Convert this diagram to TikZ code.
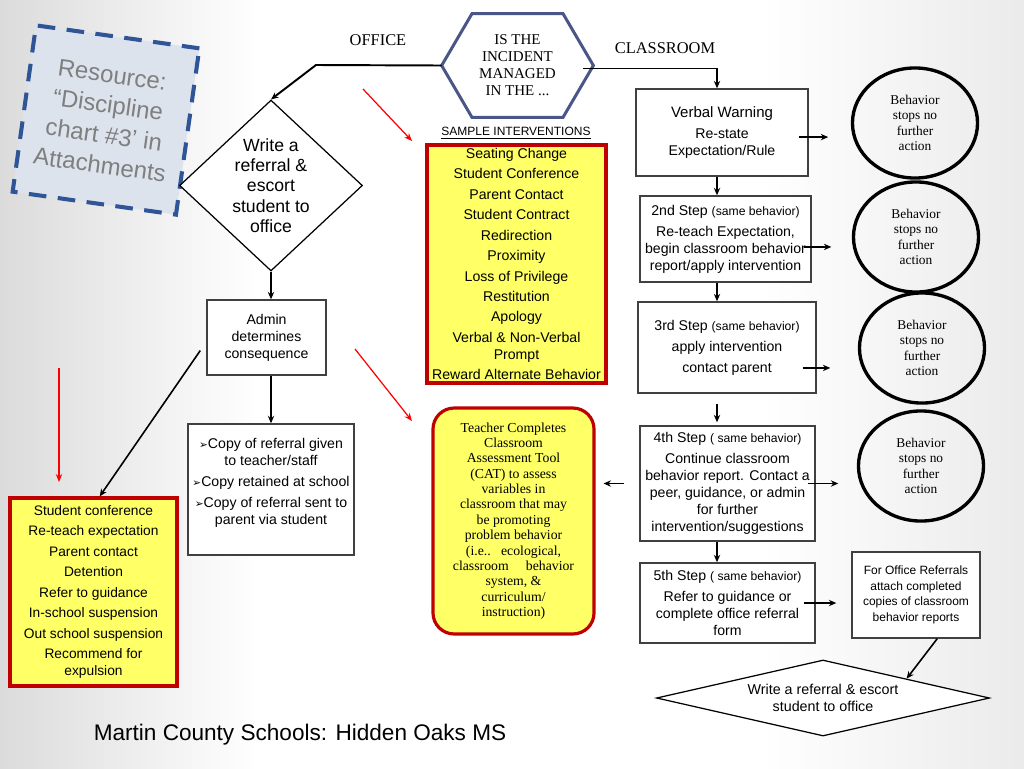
\documentclass[tikz,border=0pt]{standalone}
\usepackage{fontspec}
\setmainfont{Liberation Sans}
\newfontfamily\discserif{Liberation Serif}
\newfontfamily\discsym{DejaVu Sans}
\usetikzlibrary{arrows.meta,positioning,shapes.geometric}
\definecolor{discInk}{HTML}{000000}
\definecolor{discRed}{HTML}{C00000}
\definecolor{discYellow}{HTML}{FFFF66}
\definecolor{discNavy}{HTML}{4A5688}
\definecolor{discDash}{HTML}{2F5597}
\definecolor{discPale}{HTML}{DCE3EC}
\definecolor{discGray}{HTML}{7F7F7F}
\definecolor{discHint}{HTML}{FF0000}
\tikzset{
  every picture/.style={text=discInk},
  disc box/.style={draw=discInk!75, line width=0.8pt, fill=white, align=center,
    inner sep=0pt, font=\fontsize{8}{9.6}\selectfont},
  disc note/.style={draw=discRed, line width=1.8pt, fill=discYellow, align=center,
    inner sep=0pt},
  disc stop/.style={ellipse, draw=discInk, line width=1.9pt, align=center,
    inner sep=0pt, minimum width=70.9pt, minimum height=62.4pt,
    font=\discserif\fontsize{7.6}{8.8}\selectfont},
  disc arrow/.style={-{Stealth[length=4.2pt,width=3.6pt]}, draw=discInk,
    line width=0.9pt},
  disc hint/.style={-{Stealth[length=4.5pt,width=3.6pt]}, draw=discHint,
    line width=0.7pt},
  disc label/.style={font=\discserif\fontsize{9.3}{11}\selectfont}
}
\begin{document}
\begin{tikzpicture}[x=0.5669pt,y=-0.5669pt]
  \useasboundingbox (0,0) rectangle (1024,768);
  % background
  \fill[white] (0,0) rectangle (1024,768);
  \shade[left color=black!14, right color=white] (0,0) rectangle (260,768);
  \shade[left color=white, right color=black!8] (760,0) rectangle (1024,768);

  % resource note
  \node[draw=discDash, line width=2.3pt, dash pattern=on 10pt off 6.5pt,
    fill=discPale, rotate=-8, minimum width=93.5pt, minimum height=95.2pt,
    align=center, text=discGray, font=\fontsize{13.6}{17.2}\selectfont]
    (resource) at (106,120) {Resource:\\“Discipline\\chart \#3’ in\\Attachments};

  % decision
  \node[minimum width=85.6pt, minimum height=58.4pt, inner sep=0pt, align=center,
    font=\discserif\fontsize{8.5}{9.6}\selectfont] (hex) at (517.5,65.5)
    {IS THE\\INCIDENT\\MANAGED\\IN THE ...};
  \draw[discNavy, line width=1.7pt] (hex.west) -- ([xshift=-25.8pt]hex.north)
    -- ([xshift=25.8pt]hex.north) -- (hex.east) -- ([xshift=25.8pt]hex.south)
    -- ([xshift=-25.8pt]hex.south) -- cycle;
  \node[disc label] (office) at (378,40) {OFFICE};
  \node[disc label] (classroom) at (665,48) {CLASSROOM};

  % office side
  \coordinate (officebend) at (316,65);
  \node[diamond, draw=discInk, line width=0.7pt, fill=white, align=center,
    inner sep=0pt, shape aspect=1.07, minimum width=103.7pt, minimum height=96.9pt,
    font=\fontsize{10}{11.5}\selectfont] (wdiam) at (271,185.5)
    {Write a\\referral \&\\escort\\student to\\office};
  \node[disc box, minimum width=67.5pt, minimum height=42.5pt] (admin) at (266.5,337.5)
    {Admin\\determines\\consequence};
  \node[disc box, minimum width=94.1pt, minimum height=74.3pt] (copies) at (271,489.5) {};
  \node[anchor=north, align=center, inner sep=0pt, font=\fontsize{8}{9.6}\selectfont]
    (copiestext) at ([yshift=-8.5pt]copies.north)
    {{\discsym\fontsize{6}{6}\selectfont ➢}Copy of referral given\\to teacher/staff\\[2.3pt]
     {\discsym\fontsize{6}{6}\selectfont ➢}Copy retained at school\\[2.3pt]
     {\discsym\fontsize{6}{6}\selectfont ➢}Copy of referral sent to\\parent via student};
  \node[disc note, minimum width=94.7pt, minimum height=106.6pt,
    font=\fontsize{7.8}{11.6}\selectfont] (conseq) at (93.5,592)
    {Student conference\\Re-teach expectation\\Parent contact\\Detention\\
     Refer to guidance\\In-school suspension\\Out school suspension\\
     Recommend for\\[-2pt]expulsion};

  % interventions
  \node[font=\fontsize{6.8}{8}\selectfont] (sampletitle) at (516,133)
    {\underline{SAMPLE INTERVENTIONS}};
  \node[disc note, minimum width=101.5pt, minimum height=134.9pt,
    font=\fontsize{8}{11.6}\selectfont] (interv) at (516.5,264)
    {Seating Change\\Student Conference\\Parent Contact\\Student Contract\\
     Redirection\\Proximity\\Loss of Privilege\\Restitution\\Apology\\
     Verbal \& Non-Verbal\\[-2pt]Prompt\\Reward Alternate Behavior};
  \node[disc note, rounded corners=12pt, minimum width=91.3pt, minimum height=128.1pt,
    font=\discserif\fontsize{7.8}{8.7}\selectfont] (cat) at (513.5,521)
    {Teacher Completes\\Classroom\\Assessment Tool\\(CAT) to assess\\variables in\\
     classroom that may\\be promoting\\problem behavior\\(i.e..\ \ \ ecological,\\
     classroom\quad\ behavior\\system, \&\\curriculum/\\instruction)};

  % classroom side
  \node[disc box, minimum width=97.5pt, minimum height=49.3pt] (vw) at (722,132.5)
    {\fontsize{8.5}{9.6}\selectfont Verbal Warning\\[2.3pt]Re-state\\Expectation/Rule};
  \node[disc box, minimum width=96.9pt, minimum height=48.8pt] (s2) at (725.5,239)
    {2nd Step {\fontsize{6.9}{9.6}\selectfont(same behavior)}\\[2.3pt]
     Re-teach Expectation,\\begin classroom behavior\\report/apply intervention};
  \node[disc box, minimum width=100.9pt, minimum height=51.6pt] (s3) at (727,347.5)
    {3rd Step {\fontsize{6.9}{9.6}\selectfont(same behavior)}\\[2.3pt]
     apply intervention\\[2.3pt]contact parent};
  \node[disc box, minimum width=99.2pt, minimum height=65.2pt] (s4) at (727.5,483.5)
    {4th Step {\fontsize{6.9}{9.6}\selectfont( same behavior)}\\[2.3pt]
     Continue classroom\\behavior report. Contact a\\peer, guidance, or admin\\
     for further\\intervention/suggestions};
  \node[disc box, minimum width=99.2pt, minimum height=45.4pt] (s5) at (727.5,603)
    {5th Step {\fontsize{6.9}{9.6}\selectfont( same behavior)}\\[2.3pt]
     Refer to guidance or\\complete office referral\\form};
  \node[disc box, minimum width=72.6pt, minimum height=48.8pt,
    font=\fontsize{6.8}{8.8}\selectfont] (offref) at (916,595)
    {For Office Referrals\\attach completed\\copies of classroom\\behavior reports};
  \node[diamond, draw=discInk, line width=0.7pt, fill=white, align=center,
    inner sep=0pt, shape aspect=4.4, minimum width=188.8pt, minimum height=43.1pt,
    font=\fontsize{8.1}{9.6}\selectfont] (bdiam) at (823,698)
    {Write a referral \& escort\\student to office};

  \node[disc stop] (stop1) at (915,123) {Behavior\\stops no\\further\\action};
  \node[disc stop] (stop2) at (916,237) {Behavior\\stops no\\further\\action};
  \node[disc stop] (stop3) at (922,348) {Behavior\\stops no\\further\\action};
  \node[disc stop] (stop4) at (921,466) {Behavior\\stops no\\further\\action};

  % connectors
  \coordinate (col) at (717,0);
  \draw[disc arrow, line width=1.1pt] (hex.west) -- (officebend) -- (wdiam.north);
  \draw[disc arrow, line width=1.1pt] ([xshift=-5.7pt,yshift=-1.7pt]hex.east)
    -| (col |- vw.north);
  \draw[disc arrow] (wdiam.south) -- (wdiam.south |- admin.north);
  \draw[disc arrow] (copies.north |- admin.south) -- (copies.north);
  \draw[disc arrow] ([shift={(-3.4pt,-7.4pt)}]admin.west) -- ([xshift=3.5pt]conseq.north);
  \draw[disc arrow] (col |- vw.south) -- (col |- s2.north);
  \draw[disc arrow] (col |- s2.south) -- (col |- s3.north);
  \draw[disc arrow, shorten <=5.7pt, shorten >=1.7pt] (col |- s3.south) -- (col |- s4.north);
  \draw[disc arrow] (col |- s4.south) -- (col |- s5.north);
  \draw[disc arrow, shorten <=-5.7pt, shorten >=12.8pt]
    ([yshift=-2.6pt]vw.east) -- ([yshift=-2.6pt]vw.east -| stop1.west);
  \draw[disc arrow, shorten <=-4.5pt, shorten >=11.6pt]
    ([yshift=-4.5pt]s2.east) -- ([yshift=-4.5pt]s2.east -| stop2.west);
  \draw[disc arrow, shorten <=-7.9pt, shorten >=15.6pt]
    ([yshift=-11.6pt]s3.east) -- ([yshift=-11.6pt]s3.east -| stop3.west);
  \draw[disc arrow, shorten <=-4.5pt, shorten >=10.5pt]
    (s4.east) -- (s4.east -| stop4.west);
  \draw[disc arrow, shorten <=-6.8pt, shorten >=8.5pt]
    (s5.east) -- (s5.east -| offref.west);
  \draw[disc arrow, shorten <=8.5pt, shorten >=4.5pt] (s4.west) -- (s4.west -| cat.east);
  \draw[disc arrow] ([xshift=12pt]offref.south) -- (bdiam.north east);

  % red hints
  \coordinate (hintAs) at (363,89);  \coordinate (hintAe) at (412,141);
  \coordinate (hintBs) at (355,349); \coordinate (hintBe) at (412,421);
  \coordinate (hintCs) at (59,368);  \coordinate (hintCe) at (59,482);
  \draw[disc hint] (hintAs) -- (hintAe);
  \draw[disc hint] (hintBs) -- (hintBe);
  \draw[disc hint] (hintCs) -- (hintCe);

  \node[font=\fontsize{12.8}{15}\selectfont] (footer) at (300,735)
    {Martin County Schools: Hidden Oaks MS};
\end{tikzpicture}
\end{document}
